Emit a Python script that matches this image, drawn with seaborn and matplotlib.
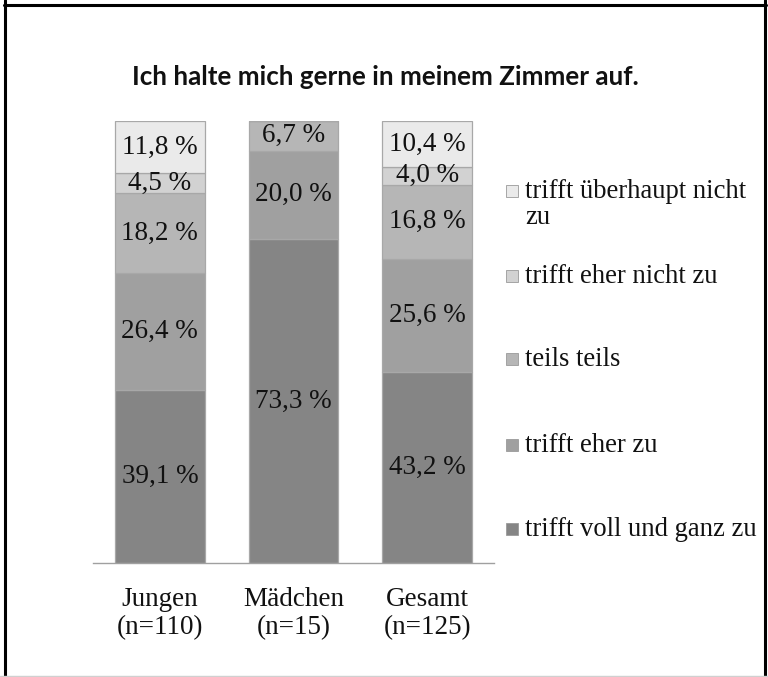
import matplotlib
matplotlib.use("Agg")
import matplotlib.pyplot as plt
from matplotlib.patches import Rectangle
from matplotlib.lines import Line2D
import seaborn as sns
import pandas as pd
import numpy as np

sns.set_style("white")
plt.rcParams['font.family'] = 'serif'
plt.rcParams['font.serif'] = ['Liberation Serif', 'DejaVu Serif']

categories = ["Jungen\n(n=110)", "Mädchen\n(n=15)", "Gesamt\n(n=125)"]
series_names = ["trifft voll und ganz zu", "trifft eher zu", "teils teils",
                "trifft eher nicht zu", "trifft überhaupt nicht\nzu"]
voll = [39.1, 73.3, 43.2]
eher_zu = [26.4, 20.0, 25.6]
teils = [18.2, 6.7, 16.8]
eher_nicht = [4.5, 0.0, 4.0]
ueberhaupt_nicht = [11.8, 0.0, 10.4]
series_values = [voll, eher_zu, teils, eher_nicht, ueberhaupt_nicht]
colors = ["#858585", "#a0a0a0", "#b6b6b6", "#d2d2d2", "#eaeaea"]

FS = 19.5
W, H = 768, 677
fig = plt.figure(figsize=(W / 100, H / 100), dpi=100)
ax = fig.add_axes([93 / W, 1 - 563 / H, (494 - 93) / W, (563 - 121) / H])

bottom = np.zeros(len(categories))
for name, vals, col in zip(series_names, series_values, colors):
    df = pd.DataFrame({"cat": categories, "val": vals})
    sns.barplot(data=df, x="cat", y="val", order=categories, color=col,
                bottom=bottom.copy(), width=0.67, errorbar=None,
                edgecolor="#a8a8a8", linewidth=0.9, saturation=1, ax=ax)
    for i, v in enumerate(vals):
        if v > 0:
            ax.text(i, bottom[i] + v / 2, f"{v:.1f} %".replace(".", ","),
                    ha="center", va="center", fontsize=FS, color="#111111")
    bottom += np.array(vals)

ax.set_xlim(-0.5, 2.5)
ax.set_ylim(0, 100)
ax.set_xlabel("")
ax.set_ylabel("")
ax.set_yticks([])
for s in ["left", "top", "right"]:
    ax.spines[s].set_visible(False)
ax.spines["bottom"].set_color("#a0a0a0")
ax.spines["bottom"].set_linewidth(1.0)
ax.set_xticks([0, 1, 2])
ax.set_xticklabels(categories, fontsize=FS, color="#111111", linespacing=1.2)
ax.tick_params(axis="x", which="major", length=0, pad=17)
ax.set_xticks([-0.5, 0.5, 1.5, 2.5], minor=True)
ax.tick_params(axis="x", which="minor", length=5, color="#a0a0a0", width=1.0)

# title
fig.text(385 / W, 1 - 85 / H, "Ich halte mich gerne in meinem Zimmer auf.",
         ha="center", va="baseline", fontsize=18.7, fontweight="bold",
         family=["Lato", "DejaVu Sans"], color="#111111")

# legend (top entry first); y = baseline of first text line in pixels
LFS = 19.2
leg_base = [199, 284, 367, 453, 537]
for yb, name, col in zip(leg_base, series_names[::-1], colors[::-1]):
    fig.patches.append(Rectangle((506 / W, 1 - (yb - 2) / H), 12 / W, 12 / H,
                                 transform=fig.transFigure, facecolor=col,
                                 edgecolor="#9a9a9a", linewidth=0.6))
    fig.text(525 / W, 1 - (yb - 0.74 * LFS * 100 / 72) / H, name,
             ha="left", va="top", fontsize=LFS, color="#111111",
             linespacing=1.05)

# outer frame (left, top, right black; bottom faint)
for xs, ys in [([4.5, 4.5], [0, 677]), ([3.5, 765.5], [672.5, 672.5]),
               ([765, 765], [0, 677])]:
    fig.add_artist(Line2D([x / W for x in xs], [y / H for y in ys],
                          transform=fig.transFigure, color="black", lw=2.2))
fig.add_artist(Line2D([0, 1], [1 / H, 1 / H], transform=fig.transFigure,
                      color="#d0d0d0", lw=1.0))

fig.savefig("out.png", dpi=100, facecolor="white")
